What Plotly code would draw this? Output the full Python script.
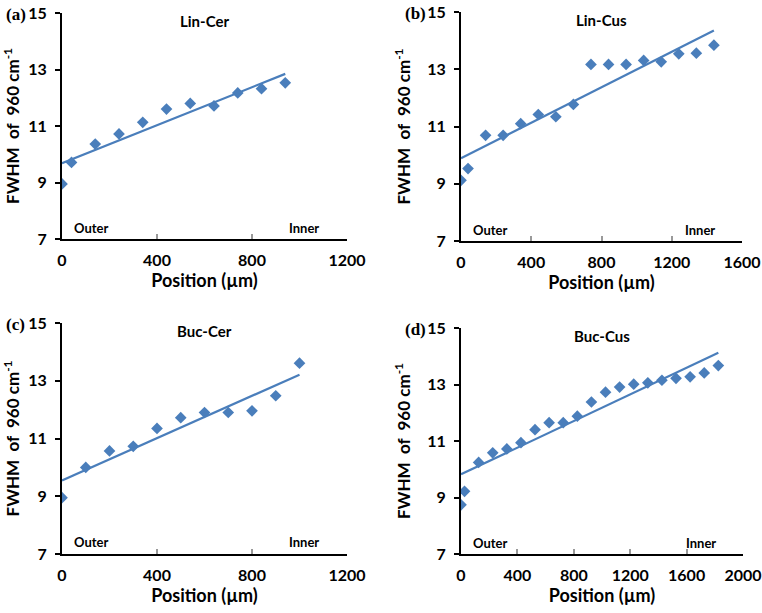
import numpy as np
import plotly.graph_objects as go

# ---- data ----
a_x = [0, 40, 140, 240, 340, 440, 540, 640, 740, 840, 940]
a_y = [8.95, 9.71, 10.36, 10.72, 11.13, 11.60, 11.80, 11.71, 12.17, 12.32, 12.53]

b_x = [0, 40, 140, 240, 340, 440, 540, 640, 740, 840, 940, 1040, 1140, 1240, 1340, 1440]
b_y = [9.12, 9.53, 10.69, 10.69, 11.10, 11.42, 11.34, 11.77, 13.17, 13.17, 13.17, 13.31, 13.26, 13.54, 13.56, 13.84]

c_x = [0, 100, 200, 300, 400, 500, 600, 700, 800, 900, 1000]
c_y = [8.95, 10.00, 10.57, 10.73, 11.35, 11.72, 11.90, 11.90, 11.96, 12.48, 13.61]

d_x = [0, 25, 125, 225, 325, 425, 525, 625, 725, 825, 925, 1025, 1125, 1225, 1325, 1425, 1525, 1625, 1725, 1825]
d_y = [8.74, 9.22, 10.24, 10.58, 10.72, 10.94, 11.40, 11.65, 11.65, 11.88, 12.38, 12.73, 12.91, 13.01, 13.06, 13.15, 13.22, 13.27, 13.41, 13.67]

titles = ["Lin-Cer", "Lin-Cus", "Buc-Cer", "Buc-Cus"]
panel_labels = ["(a)", "(b)", "(c)", "(d)"]
x_ranges = [[0, 1200], [0, 1600], [0, 1200], [0, 2000]]
x_dticks = [400, 400, 400, 400]
y_ticks = [7, 9, 11, 13, 15]

series = [(a_x, a_y), (b_x, b_y), (c_x, c_y), (d_x, d_y)]

W, H = 762, 613
BLUE = "#4A7EBB"
FONT = "Lato"

# pixel boxes of the plot areas: (left, right, top, bottom)
boxes = [(62, 347, 13, 239), (461, 742, 12, 241), (62, 347, 323, 554), (461, 743, 328, 554)]

fig = go.Figure()
annotations = []

for i, ((xs, ys), box) in enumerate(zip(series, boxes)):
    n = i + 1
    xa = "x" if n == 1 else f"x{n}"
    ya = "y" if n == 1 else f"y{n}"
    fig.add_trace(go.Scatter(x=xs, y=ys, mode="markers",
                             marker=dict(symbol="diamond", size=9, color=BLUE),
                             xaxis=xa, yaxis=ya, showlegend=False))
    k, b0 = np.polyfit(xs, ys, 1)
    lx = [min(xs), max(xs)]
    ly = [k * v + b0 for v in lx]
    fig.add_trace(go.Scatter(x=lx, y=ly, mode="lines",
                             line=dict(color=BLUE, width=2.2),
                             xaxis=xa, yaxis=ya, showlegend=False))
    l, r, t, bt = box
    xdom = [l / W, r / W]
    ydom = [1 - bt / H, 1 - t / H]
    xkey = "xaxis" if n == 1 else f"xaxis{n}"
    ykey = "yaxis" if n == 1 else f"yaxis{n}"
    fig.layout[xkey] = dict(
        domain=xdom, range=x_ranges[i], anchor=ya, dtick=x_dticks[i], tick0=0,
        showgrid=False, zeroline=False, showline=True, linecolor="black", linewidth=2,
        ticks="inside", ticklen=5, tickcolor="#999999", tickwidth=1.5,
        tickfont=dict(family=FONT, size=16, color="black", weight="bold"),
        ticklabelstandoff=6,
        title=dict(text="<b>Position (µm)</b>", font=dict(family=FONT, size=18, color="black"), standoff=5),
        automargin=False,
    )
    fig.layout[ykey] = dict(
        domain=ydom, range=[7, 15], anchor=xa, tickvals=y_ticks,
        showgrid=False, zeroline=False, showline=True, linecolor="black", linewidth=2,
        ticks="outside", ticklen=5, tickcolor="black", tickwidth=1.5,
        tickfont=dict(family=FONT, size=16, color="black", weight="bold"),
        ticklabelstandoff=5,
        title=dict(text="<b>FWHM  of  960 cm<sup>-1</sup></b>", font=dict(family=FONT, size=17, color="black"), standoff=12),
        automargin=False,
    )
    # subplot title
    annotations.append(dict(text=f"<b>{titles[i]}</b>", x=0.5, y=1 - 8 / (bt - t),
                            xref=f"{xa} domain", yref=f"{ya} domain", showarrow=False,
                            xanchor="center", yanchor="middle",
                            font=dict(family=FONT, size=15, color="black")))
    # panel label
    annotations.append(dict(text=f"<b>{panel_labels[i]}</b>", x=(l - 58) / W, y=1 - (t + 1) / H,
                            xref="paper", yref="paper", showarrow=False,
                            xanchor="left", yanchor="middle",
                            font=dict(family="Liberation Serif", size=17, color="black")))
    # Outer / Inner
    annotations.append(dict(text="<b>Outer</b>", x=0.035, y=0.05, xref=f"{xa} domain", yref=f"{ya} domain",
                            showarrow=False, xanchor="left", yanchor="middle",
                            font=dict(family=FONT, size=13, color="black")))
    annotations.append(dict(text="<b>Inner</b>", x=0.91, y=0.05, xref=f"{xa} domain", yref=f"{ya} domain",
                            showarrow=False, xanchor="right", yanchor="middle",
                            font=dict(family=FONT, size=13, color="black")))

fig.update_layout(width=W, height=H, margin=dict(l=0, r=0, t=0, b=0),
                  paper_bgcolor="white", plot_bgcolor="white",
                  annotations=annotations, showlegend=False)

fig.write_html("out.html", config={"displayModeBar": False},
               post_script="document.body.style.margin='0';")
